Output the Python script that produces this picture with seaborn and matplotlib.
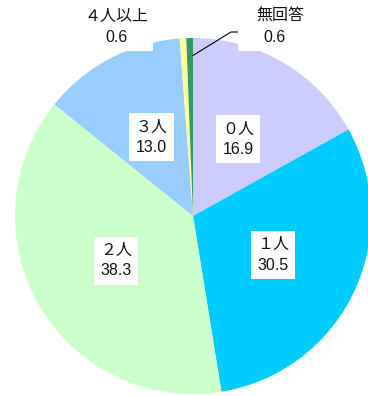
import matplotlib
matplotlib.use("Agg")
import numpy as np
import matplotlib.pyplot as plt
import seaborn as sns
from matplotlib.patches import Rectangle

# Household members (%)
categories = ["０人", "１人", "２人", "３人", "４人以上", "無回答"]
values = [16.9, 30.5, 38.3, 13.0, 0.6, 0.6]
colors = ["#CCCCFF", "#00CCFF", "#CCFFCC", "#99CCFF", "#FFFF99", "#339966"]

sns.set_style("white")
plt.rcParams["font.family"] = ["Liberation Sans", "Noto Sans CJK JP", "DejaVu Sans"]

W, H = 368, 396
fig = plt.figure(figsize=(W / 100, H / 100), dpi=100)
ax = fig.add_axes([0, 0, 1, 1])

cx, cy, r = 193, H - 216, 178
wedges, _ = ax.pie(values, colors=colors, startangle=90, counterclock=False,
                   center=(cx, cy), radius=r,
                   wedgeprops=dict(linewidth=0, antialiased=True))
ax.set_xlim(0, W)
ax.set_ylim(0, H)
ax.set_aspect("equal")
ax.axis("off")

fs = 11.5
txt = "#111111"
# labels inside the large wedges
for w, cat, val in zip(wedges[:4], categories[:4], values[:4]):
    mid = np.deg2rad((w.theta1 + w.theta2) / 2)
    x = cx + 0.5 * r * np.cos(mid)
    y = cy + 0.5 * r * np.sin(mid)
    ax.text(x, y, f"{cat}\n{val:.1f}", ha="center", va="center", fontsize=fs,
            linespacing=1.45, color=txt, zorder=5,
            bbox=dict(boxstyle="square,pad=0.4", facecolor="white", edgecolor="none"))

# labels for the thin wedges above the pie
ax.add_patch(Rectangle((60, H - 51), 93, 51, facecolor="white", edgecolor="none", zorder=3))
ax.add_patch(Rectangle((238, H - 51), 110, 51, facecolor="white", edgecolor="none", zorder=3))

ax.text(116, H - 16, categories[4], ha="center", va="center", fontsize=fs,
        color=txt, zorder=5)
ax.text(116, H - 38, f"{values[4]:.1f}", ha="center", va="center", fontsize=fs,
        color=txt, zorder=5)
ax.text(280, H - 16, categories[5], ha="center", va="center", fontsize=fs,
        color=txt, zorder=5)
ax.text(274, H - 38, f"{values[5]:.1f}", ha="center", va="center", fontsize=fs,
        color=txt, zorder=5)

# leader line to the last wedge
w = wedges[5]
ang = np.deg2rad(w.theta1 + (w.theta2 - w.theta1) * 0.1)
x0 = cx + 0.9 * r * np.cos(ang)
y0 = cy + 0.9 * r * np.sin(ang)
ax.plot([x0, 231, 238], [y0, H - 32, H - 32], color="black", linewidth=0.8,
        zorder=6, solid_capstyle="butt")

fig.savefig("out.png", dpi=100, facecolor="white")
